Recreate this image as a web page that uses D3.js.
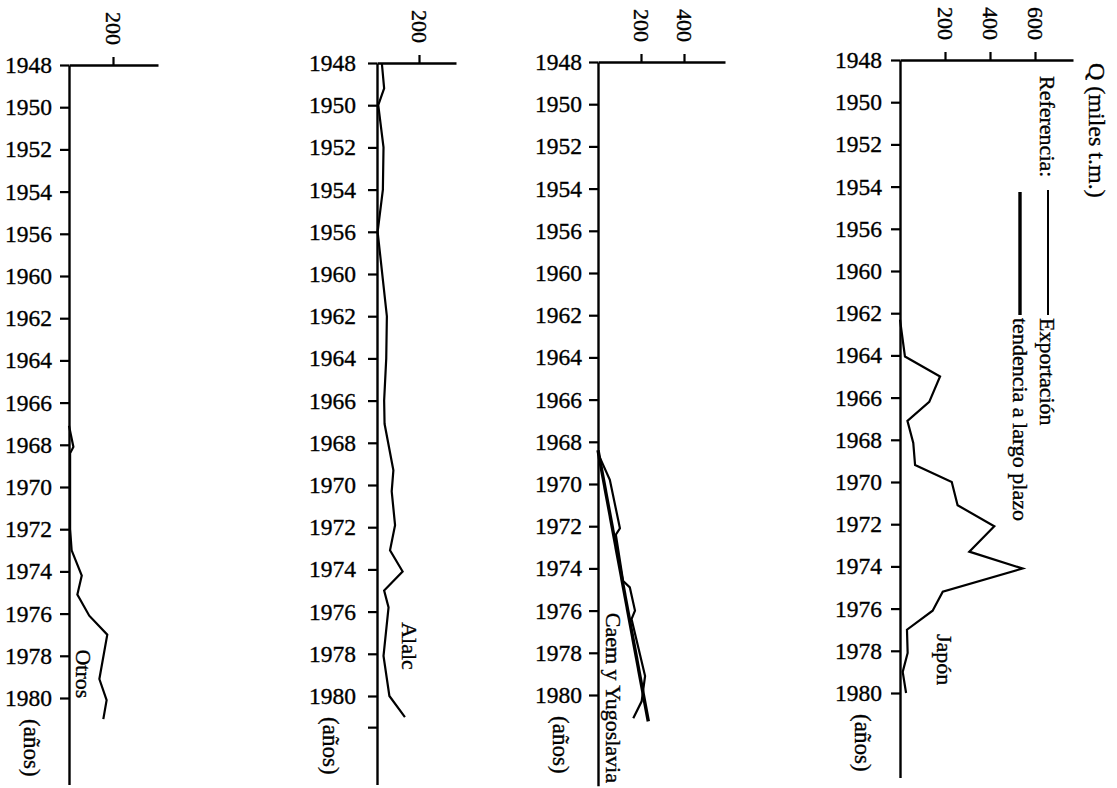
<!DOCTYPE html>
<html>
<head>
<meta charset="utf-8">
<script src="https://cdn.jsdelivr.net/npm/d3@7"></script>
<style>
    body { margin: 0; background: #fff; }
    svg { font-family: "Liberation Serif", "Times New Roman", serif; }
    text { stroke: #000; stroke-width: 0.35px; }
</style>
</head>
<body>
<div id="chart"></div>
<script>
// year ticks as printed (no 1958: 1956 and 1960 sit one slot apart)
const yearTicks = [1948, 1950, 1952, 1954, 1956, 1960, 1962, 1964, 1966, 1968, 1970, 1972, 1974, 1976, 1978, 1980];

// [year, thousand t.m.]
const otrosExport = [[1967.1, 0], [1968.1, 20], [1968.4, 5], [1972.0, 5], [1973.0, 12], [1974.2, 58], [1975.1, 38],
    [1976.1, 92], [1977.0, 174], [1979.1, 138], [1980.1, 171], [1981.0, 156]];

const alalcExport = [[1948, 23], [1949.2, 34], [1950, 6], [1952, 31], [1954, 28], [1956, 3], [1962, 47], [1964, 44],
    [1966, 34], [1967.1, 36], [1969.3, 78], [1970.3, 70], [1971.9, 86], [1973.1, 62], [1974.1, 122], [1975.0, 34],
    [1975.8, 55], [1978.1, 31], [1980.0, 59], [1981.0, 133]];
const alalcExtraTicks = [1981.5];

const caemExport = [[1968.55, 0], [1969.8, 55], [1972.1, 102], [1972.4, 83], [1974.6, 117], [1974.9, 148], [1976.0, 172],
    [1976.4, 156], [1979.1, 219], [1980.3, 203], [1981.1, 164]];
const caemTrend = [[1968.4, 0], [1981.25, 234]];

const japonExport = [[1962.3, 0], [1964.05, 22], [1965.0, 178], [1966.2, 130], [1967.1, 33], [1968.15, 59], [1969.2, 67],
    [1970.0, 230], [1971.1, 256], [1972.1, 419], [1973.3, 308], [1974.1, 545], [1975.2, 190], [1976.1, 145],
    [1977.0, 31], [1978.1, 34], [1979.0, 12], [1980.0, 27]];

const qTicksOtros = [200];
const qTicksAlalc = [200];
const qTicksCaem = [200, 400];
const qTicksJapon = [200, 400, 600];

const width = 1117, height = 788;
const step = 42.2;      // px per year slot
const fs = 22;          // font size

const panels = [
    {name: "Otros", exp: otrosExport, trend: null, qTicks: qTicksOtros, extra: [],
        x0: 69, x200: 113, xEnd: 158, top: 65, endSlot: 17.05, label: [1977.7, 68], anosDx: -37, pad: 8},
    {name: "Alalc", exp: alalcExport, trend: null, qTicks: qTicksAlalc, extra: alalcExtraTicks,
        x0: 377, x200: 419, xEnd: 456, top: 63, endSlot: 17.1, label: [1976.5, 157], anosDx: -46, pad: 12},
    {name: "Caem y Yugoslavia", exp: caemExport, trend: caemTrend, qTicks: qTicksCaem, extra: [],
        x0: 598, x200: 641, xEnd: 725, top: 62, endSlot: 17.15, label: [1976.1, 74], anosDx: -37, pad: 7},
    {name: "Japón", exp: japonExport, trend: null, qTicks: qTicksJapon, extra: [],
        x0: 900, x200: 945, xEnd: 1073, top: 60, endSlot: 17.0, label: [1977.2, 200], anosDx: -37, pad: 9}
];

const svg = d3.select("#chart").append("svg")
    .attr("width", width)
    .attr("height", height);

const yearSlot = d3.scaleLinear().domain(yearTicks).range(yearTicks.map((d, i) => i));

function vText(g, text, x, y, size) {
    // text reading top to bottom, like the rotated page
    return g.append("text")
        .attr("transform", `translate(${x},${y}) rotate(90)`)
        .attr("dy", "0.35em")
        .attr("font-size", size || fs)
        .attr("fill", "#000")
        .text(text);
}

panels.forEach(p => {
    const g = svg.append("g");

    const slot = d3.scaleLinear().domain([0, p.endSlot]).range([p.top, p.top + p.endSlot * step]);
    const y = yr => slot(yearSlot(yr));
    const x = d3.scaleLinear().domain([0, 200]).range([p.x0, p.x200]);

    // year axis
    const yAxis = g.append("g")
        .attr("transform", `translate(${p.x0},0)`)
        .call(d3.axisLeft(slot)
            .tickValues(d3.range(yearTicks.length))
            .tickFormat(i => yearTicks[i])
            .tickSize(9)
            .tickSizeOuter(0)
            .tickPadding(p.pad));

    // quantity axis on top
    const qAxis = g.append("g")
        .attr("transform", `translate(0,${p.top})`)
        .call(d3.axisTop(x.copy().domain([0, x.invert(p.xEnd)]).range([p.x0, p.xEnd]))
            .tickValues(p.qTicks)
            .tickSize(8)
            .tickSizeOuter(0));

    [yAxis, qAxis].forEach(a => {
        a.select(".domain").attr("stroke", "#000").attr("stroke-width", 2.4);
        a.selectAll(".tick line").attr("stroke", "#000").attr("stroke-width", 2.2);
        a.selectAll("text").attr("font-size", fs).attr("fill", "#000")
            .attr("font-family", "Liberation Serif, Times New Roman, serif");
    });
    yAxis.selectAll(".tick text").attr("font-size", 23.5);

    qAxis.selectAll(".tick text")
        .attr("x", 0).attr("y", 0)
        .attr("dy", "0.35em")
        .attr("text-anchor", "end")
        .attr("transform", "translate(0,-20) rotate(90)");

    g.selectAll(".extra")
        .data(p.extra)
        .join("line")
        .attr("x1", p.x0 - 9).attr("x2", p.x0)
        .attr("y1", d => y(d)).attr("y2", d => y(d))
        .attr("stroke", "#000").attr("stroke-width", 2.2);

    const line = d3.line().x(d => x(d[1])).y(d => y(d[0]));

    g.append("path")
        .datum(p.exp)
        .attr("d", line)
        .attr("fill", "none")
        .attr("stroke", "#000")
        .attr("stroke-width", 2.2);

    if (p.trend) {
        g.append("path")
            .datum(p.trend)
            .attr("d", line)
            .attr("fill", "none")
            .attr("stroke", "#000")
            .attr("stroke-width", 3.4);
    }

    vText(g, p.name, x(p.label[1]), y(p.label[0]));
    vText(g, "(años)", p.x0 + p.anosDx, y(1981.0), 23);
});

// title of the quantity axis and legend (in the Japón panel)
vText(svg, "Q (miles t.m.)", 1097, 63, 24);
vText(svg, "Referencia:", 1048, 76);

const legend = svg.append("g");
legend.append("line")
    .attr("x1", 1048).attr("x2", 1048).attr("y1", 190).attr("y2", 315)
    .attr("stroke", "#000").attr("stroke-width", 2);
vText(legend, "Exportación", 1048, 318);
legend.append("line")
    .attr("x1", 1020).attr("x2", 1020).attr("y1", 192).attr("y2", 315)
    .attr("stroke", "#000").attr("stroke-width", 3.4);
vText(legend, "tendencia a largo plazo", 1021, 318);
</script>
</body>
</html>
